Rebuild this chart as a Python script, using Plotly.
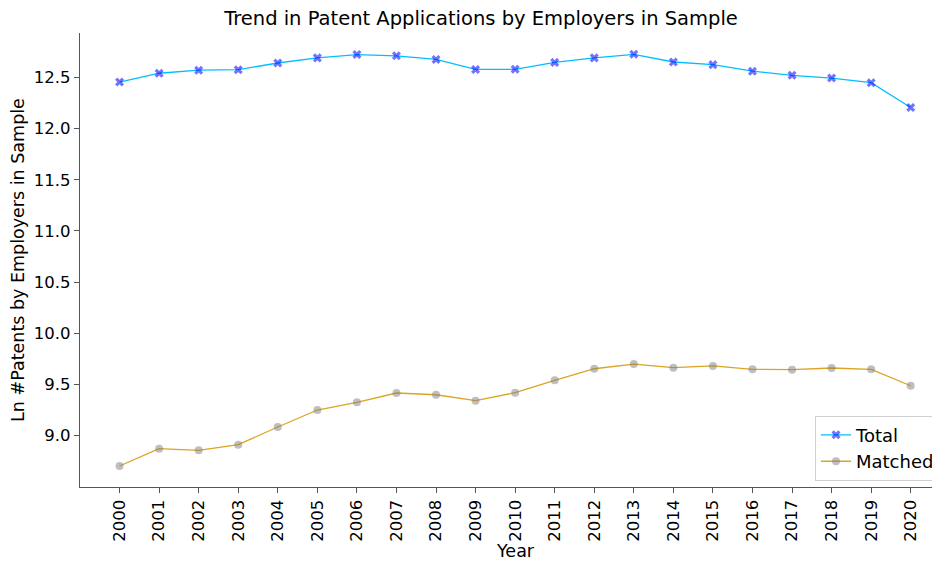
import plotly.graph_objects as go

years = list(range(2000, 2021))
total = [12.454, 12.540, 12.570, 12.575, 12.640, 12.690, 12.722, 12.710, 12.675, 12.577,
         12.578, 12.646, 12.690, 12.725, 12.650, 12.624, 12.560, 12.520, 12.493, 12.448, 12.205]
matched = [8.704, 8.873, 8.857, 8.912, 9.085, 9.251, 9.326, 9.417, 9.400, 9.342,
           9.420, 9.541, 9.654, 9.700, 9.664, 9.681, 9.648, 9.645, 9.661, 9.648, 9.488]
y_ticks = [9.0, 9.5, 10.0, 10.5, 11.0, 11.5, 12.0, 12.5]

FONT = "DejaVu Sans"
W, H = 932, 554  # page body has an 8px margin

fig = go.Figure()
fig.add_trace(go.Scatter(
    x=years, y=total, name="Total", mode="lines+markers",
    line=dict(color="#00BFFF", width=1.3),
    marker=dict(symbol="x", size=8, color="rgba(0,0,255,0.55)", line=dict(width=0)),
))
fig.add_trace(go.Scatter(
    x=years, y=matched, name="Matched", mode="lines+markers",
    line=dict(color="#DAA520", width=1.3),
    marker=dict(symbol="circle", size=8, color="rgba(128,128,128,0.5)", line=dict(width=0)),
))

fig.update_layout(
    width=W, height=H,
    margin=dict(l=72, r=0, t=25, b=75, autoexpand=False),
    paper_bgcolor="white", plot_bgcolor="white",
    font=dict(family=FONT, size=16.5, color="#000"),
    title=dict(text="Trend in Patent Applications by Employers in Sample",
               x=(481 - 8) / W, xanchor="center", y=1 - 10 / H, yanchor="middle",
               font=dict(size=19.5, family=FONT, color="#000")),
    legend=dict(x=1.0, xanchor="right", y=0.014, yanchor="bottom",
                bgcolor="rgba(255,255,255,0.8)", bordercolor="#d0d0d0", borderwidth=1,
                font=dict(size=18, family=FONT), entrywidth=104, entrywidthmode="pixels",
                tracegroupgap=0),
    showlegend=True,
    annotations=[dict(text="Year", xref="paper", yref="paper",
                      x=(515 - 80) / 860, y=0, xanchor="center", yanchor="middle",
                      yshift=-64, showarrow=False,
                      font=dict(size=17.5, family=FONT, color="#000"))],
)
fig.update_xaxes(
    range=[1999.0, 2020.74], tickmode="array", tickvals=years,
    ticktext=[str(y) for y in years], tickangle=-90, automargin=False,
    showgrid=False, zeroline=False, showline=True, linecolor="#555", linewidth=1.3,
    ticks="outside", ticklen=5, tickcolor="#555", tickwidth=1,
    tickfont=dict(size=16.5, family=FONT),
)
fig.update_yaxes(
    range=[8.499, 12.933], tickmode="array", tickvals=y_ticks,
    ticktext=[f"{v:.1f}" for v in y_ticks], automargin=False,
    showgrid=False, zeroline=False, showline=True, linecolor="#555", linewidth=1.3,
    ticks="outside", ticklen=5, tickcolor="#555", tickwidth=1,
    tickfont=dict(size=16.5, family=FONT),
    title=dict(text="Ln #Patents by Employers in Sample", font=dict(size=17.5, family=FONT), standoff=7),
)

fig.write_html("out.html")
